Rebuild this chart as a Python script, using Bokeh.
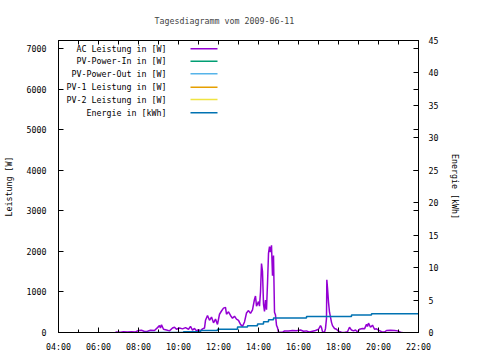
from bokeh.plotting import figure
from bokeh.models import LinearAxis, Range1d, FixedTicker, Label
from bokeh.embed import file_html
from bokeh.resources import INLINE

# ---- data ----
ac_times = ["06:51", "07:06", "07:15", "07:27", "07:39", "07:51", "08:00", "08:09", "08:18", "08:27",
            "08:36", "08:48", "08:57", "09:03", "09:06", "09:09", "09:15", "09:24", "09:33", "09:42",
            "09:48", "09:54", "10:03", "10:12", "10:21", "10:30", "10:36", "10:42", "10:48", "10:54",
            "11:00", "11:06", "11:12", "11:18", "11:21", "11:27", "11:33", "11:39", "11:45", "11:51",
            "11:57", "12:03", "12:09", "12:15", "12:21", "12:24", "12:30", "12:36", "12:42", "12:48",
            "12:54", "13:00", "13:06", "13:12", "13:18", "13:24", "13:30", "13:36", "13:42", "13:48",
            "13:51", "13:54", "14:00", "14:03", "14:06", "14:09", "14:12", "14:15", "14:18", "14:21",
            "14:24", "14:27", "14:30", "14:33", "14:36", "14:39", "14:42", "14:45", "14:48", "14:51",
            "14:54", "14:57", "15:00", "15:12", "15:18", "15:30", "15:42", "15:54", "16:06", "16:15",
            "16:24", "16:33", "16:42", "16:51", "17:00", "17:06", "17:09", "17:12", "17:18", "17:21",
            "17:24", "17:25", "17:27", "17:30", "17:33", "17:36", "17:39", "17:42", "17:48", "17:54",
            "18:00", "18:09", "18:18", "18:27", "18:33", "18:39", "18:45", "18:51", "18:57", "19:03",
            "19:12", "19:18", "19:24", "19:27", "19:30", "19:36", "19:42", "19:48", "19:54", "20:00",
            "20:09", "20:18", "20:24", "20:36", "20:48", "20:57", "21:06", "21:12"]
ac_watts = [15, 5, 20, 10, 20, 15, 50, 55, 25, 30,
            55, 50, 120, 170, 110, 190, 80, 60, 40, 110,
            130, 80, 110, 90, 120, 80, 150, 60, 100, 40,
            70, 40, 90, 110, 300, 420, 300, 380, 240, 330,
            200, 450, 530, 600, 620, 450, 510, 420, 350, 400,
            330, 300, 200, 150, 260, 480, 540, 470, 560, 820,
            900, 650, 760, 650, 1000, 1700, 1500, 700, 520, 800,
            560, 1200, 1950, 2120, 1980, 2150, 1400, 1900, 500, 430,
            180, 120, 10, 5, 40, 35, 50, 45, 60, 30,
            40, 10, 30, 50, 80, 170, 120, 20, 10, 100,
            350, 1300, 1100, 750, 500, 380, 250, 170, 100, 80,
            30, 5, 0, 20, 130, 60, 40, 60, 10, 80,
            100, 90, 200, 150, 230, 130, 180, 80, 90, 60,
            20, 10, 50, 55, 50, 40, 5, 0]

energy_times = ["08:15", "10:15", "11:06", "11:57", "12:57", "13:27", "13:57", "14:15",
                "14:30", "14:45", "16:24", "18:39", "19:39", "22:00"]
energy_kwh = [0.0, 0.1, 0.3, 0.5, 0.85, 1.05, 1.3, 1.65, 1.95, 2.25, 2.45, 2.7, 2.9, 2.9]

x_major_hours = [4, 6, 8, 10, 12, 14, 16, 18, 20, 22]
x_minor_hours = [5, 7, 9, 11, 13, 15, 17, 19, 21]
x_tick_labels = ["04:00", "06:00", "08:00", "10:00", "12:00", "14:00", "16:00", "18:00", "20:00", "22:00"]
left_ticks = [0, 1000, 2000, 3000, 4000, 5000, 6000, 7000]
right_ticks = [0, 5, 10, 15, 20, 25, 30, 35, 40, 45]

legend_labels = ["AC Leistung in [W]", "PV-Power-In in [W]", "PV-Power-Out in [W]",
                 "PV-1 Leistung in [W]", "PV-2 Leistung in [W]", "Energie in [kWh]"]
legend_colors = ["#9400d3", "#009e73", "#56b4e9", "#e69f00", "#f0e442", "#0072b2"]


def hours(s):
    h, m = s.split(":")
    return int(h) + int(m) / 60.0


FONT = "DejaVu Sans Mono"
FS = "8.3px"

p = figure(frame_width=360, frame_height=292,
           x_range=Range1d(4, 22), y_range=Range1d(0, 7200),
           output_backend="svg", toolbar_location=None,
           min_border_left=54, min_border_right=50, min_border_top=40, min_border_bottom=20,
           x_axis_type=None, y_axis_type=None)
p.extra_y_ranges = {"energy": Range1d(0, 45)}
p.grid.visible = False
p.outline_line_color = "black"
p.outline_line_alpha = 1.0
p.background_fill_color = "white"
p.border_fill_color = "white"

p.title.text = "Tagesdiagramm vom 2009-06-11"
p.title.text_font = FONT
p.title.text_font_size = FS
p.title.text_font_style = "normal"
p.title.align = "left"
p.title.offset = 96
p.title.standoff = 26
p.title.vertical_align = "top"


def style_axis(ax):
    ax.axis_line_color = "black"
    ax.major_tick_in = 5
    ax.major_tick_out = 0
    ax.minor_tick_in = 3
    ax.minor_tick_out = 0
    ax.major_tick_line_color = "black"
    ax.minor_tick_line_color = "black"
    ax.major_label_text_font = FONT
    ax.major_label_text_font_size = FS
    ax.major_label_text_color = "black"
    ax.axis_label_text_font = FONT
    ax.axis_label_text_font_size = FS
    ax.axis_label_text_font_style = "normal"
    ax.axis_label_text_color = "black"


xticker = FixedTicker(ticks=x_major_hours, minor_ticks=x_minor_hours)
xb = LinearAxis(ticker=xticker)
xb.major_label_overrides = {h: lab for h, lab in zip(x_major_hours, x_tick_labels)}
style_axis(xb)
xb.major_label_standoff = 9
p.add_layout(xb, "below")

# mirrored ticks on top (drawn as unlabeled minor ticks)
xt = LinearAxis(ticker=FixedTicker(ticks=[], minor_ticks=sorted(x_major_hours + x_minor_hours)))
style_axis(xt)
xt.minor_tick_in = 4
p.add_layout(xt, "above")

yl = LinearAxis(ticker=FixedTicker(ticks=left_ticks, minor_ticks=[]), axis_label="Leistung [W]")
style_axis(yl)
yl.major_label_standoff = 12
yl.axis_label_standoff = 10
p.add_layout(yl, "left")

# right axis: own ticks plus mirrored left-axis ticks (as minor ticks)
ratio = 7200 / 45.0
yr = LinearAxis(y_range_name="energy",
                ticker=FixedTicker(ticks=right_ticks, minor_ticks=[t / ratio for t in left_ticks[1:]]),
                axis_label="Energie [kWh]")
style_axis(yr)
yr.minor_tick_in = 5
yr.major_label_standoff = 10
yr.axis_label_standoff = 9
p.add_layout(yr, "right")

# data
p.line([hours(t) for t in ac_times], ac_watts, color=legend_colors[0], line_width=1.5)
p.step([hours(t) for t in energy_times], energy_kwh, mode="after",
       color=legend_colors[5], line_width=1.5, y_range_name="energy")

# gnuplot-style key: text right-aligned, sample line on its right
key_text_x = 9.4
key_line_x0, key_line_x1 = 10.6, 11.95
key_rows_y = [6995, 6690, 6379, 6049, 5745, 5417]
for lab, col, yy in zip(legend_labels, legend_colors, key_rows_y):
    p.add_layout(Label(x=key_text_x, y=yy, text=lab, text_align="right", text_baseline="middle",
                       text_font=FONT, text_font_size=FS, text_color="black"))
    p.segment(x0=[key_line_x0], x1=[key_line_x1], y0=[yy], y1=[yy], line_color=col, line_width=1.5)

open("out.html", "w").write(file_html(p, INLINE))
